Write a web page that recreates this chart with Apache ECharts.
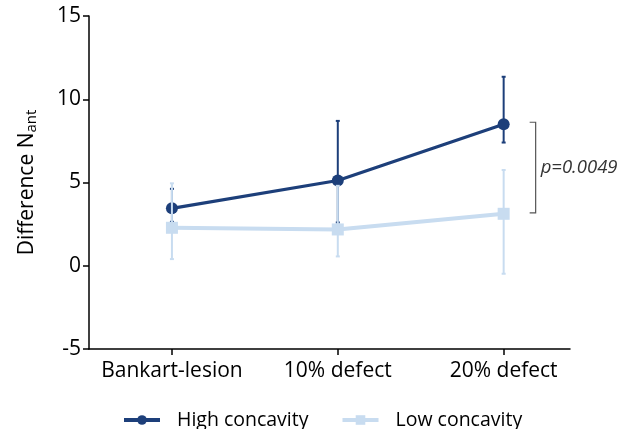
<!DOCTYPE html>
<html>
<head>
<meta charset="utf-8">
<script src="https://cdn.jsdelivr.net/npm/echarts@6/dist/echarts.min.js"></script>
<style>
html,body{margin:0;padding:0;background:#fff;}
#chart{width:622px;height:429px;}
</style>
</head>
<body>
<div id="chart"></div>
<script>
// Conditions along the x axis
var categories = ['Bankart-lesion', '10% defect', '20% defect'];
// Group means with lower / upper error limits
var highValues = [3.45, 5.12, 8.5];
var highLow = [2.64, 2.6, 7.4];
var highHigh = [4.62, 8.7, 11.35];
var lowValues = [2.28, 2.18, 3.12];
var lowLow = [0.4, 0.56, -0.48];
var lowHigh = [4.95, 4.8, 5.75];
var yTicks = [-5, 0, 5, 10, 15];
var pText = 'p=0.0049';

var darkBlue = '#1d3f7a';
var lightBlue = '#c8dcf0';
var font = "'Open Sans', 'Noto Sans', sans-serif";

function pairs(vals) { return vals.map(function (v, i) { return [i, v]; }); }
function bars(lo, hi) { return lo.map(function (v, i) { return [i, v, hi[i]]; }); }

function errorSeries(data, color, z) {
  return {
    type: 'custom',
    z: z,
    silent: true,
    data: data,
    renderItem: function (params, api) {
      var x = api.value(0);
      var top = api.coord([x, api.value(2)]);
      var bot = api.coord([x, api.value(1)]);
      var w = 2;
      var st = { stroke: color, lineWidth: 2 };
      return {
        type: 'group',
        children: [
          { type: 'line', shape: { x1: top[0], y1: top[1], x2: bot[0], y2: bot[1] }, style: st },
          { type: 'line', shape: { x1: top[0] - w, y1: top[1], x2: top[0] + w, y2: top[1] }, style: st },
          { type: 'line', shape: { x1: bot[0] - w, y1: bot[1], x2: bot[0] + w, y2: bot[1] }, style: st }
        ]
      };
    }
  };
}

var chart = echarts.init(document.getElementById('chart'));
chart.setOption({
  animation: false,
  grid: { left: 89, top: 16, width: 481, bottom: 80, containLabel: false },
  xAxis: {
    type: 'value',
    min: -0.5,
    max: 2.4,
    splitLine: { show: false },
    axisLine: { onZero: false, lineStyle: { color: '#000', width: 1.5 } },
    axisTick: { show: true, customValues: [0, 1, 2], length: 6, lineStyle: { color: '#000', width: 1.5 } },
    axisLabel: {
      customValues: [0, 1, 2],
      formatter: function (v) { return categories[Math.round(v)]; },
      color: '#000', fontSize: 21, fontFamily: font, margin: 12
    }
  },
  yAxis: {
    type: 'value',
    min: yTicks[0],
    max: yTicks[yTicks.length - 1],
    interval: 5,
    splitLine: { show: false },
    axisLine: { show: true, onZero: false, lineStyle: { color: '#000', width: 1.5 } },
    axisTick: { show: true, length: 6, lineStyle: { color: '#000', width: 1.5 } },
    axisLabel: { color: '#000', fontSize: 21, fontFamily: font, margin: 8 },
    name: '{a|Difference N}{s|ant}',
    nameLocation: 'middle',
    nameGap: 50,
    nameRotate: 90,
    nameTextStyle: {
      rich: {
        a: { fontSize: 21, fontFamily: font, color: '#000' },
        s: { fontSize: 15, fontFamily: font, color: '#000', verticalAlign: 'bottom', padding: [9, 0, 0, 0] }
      }
    }
  },
  legend: {
    left: 117,
    top: 405,
    itemWidth: 36,
    itemHeight: 12,
    itemGap: 32,
    lineStyle: { width: 4 },
    textStyle: { color: '#000', fontSize: 19.5, fontFamily: font, padding: [0, 0, 0, 12] },
    data: ['High concavity', 'Low concavity']
  },
  series: [
    errorSeries(bars(highLow, highHigh), darkBlue, 2),
    {
      name: 'High concavity',
      type: 'line',
      z: 3,
      data: pairs(highValues),
      symbol: 'circle',
      symbolSize: 12,
      lineStyle: { color: darkBlue, width: 3.2 },
      itemStyle: { color: darkBlue }
    },
    {
      name: 'Low concavity',
      type: 'line',
      z: 4,
      data: pairs(lowValues),
      symbol: 'rect',
      symbolSize: 12,
      lineStyle: { color: lightBlue, width: 4 },
      itemStyle: { color: lightBlue }
    },
    errorSeries(bars(lowLow, lowHigh), lightBlue, 5)
  ]
});

// Significance bracket between the two groups at 20% defect
function drawBracket() {
  var a = chart.convertToPixel({ gridIndex: 0 }, [2, highValues[2]]);
  var b = chart.convertToPixel({ gridIndex: 0 }, [2, lowValues[2]]);
  var x0 = a[0] + 26, x1 = a[0] + 32;
  var y0 = a[1] - 2, y1 = b[1] - 1;
  chart.setOption({
    graphic: [
      {
        type: 'polyline',
        shape: { points: [[x0, y0], [x1, y0], [x1, y1], [x0, y1]] },
        style: { stroke: '#555', lineWidth: 1.2, fill: null },
        z: 10
      },
      {
        type: 'text',
        x: x1 + 5,
        y: (y0 + y1) / 2,
        style: {
          text: pText, fill: '#333', font: 'italic 18.5px ' + font,
          textVerticalAlign: 'middle', verticalAlign: 'middle'
        },
        z: 10
      }
    ]
  });
}
drawBracket();
</script>
</body>
</html>
